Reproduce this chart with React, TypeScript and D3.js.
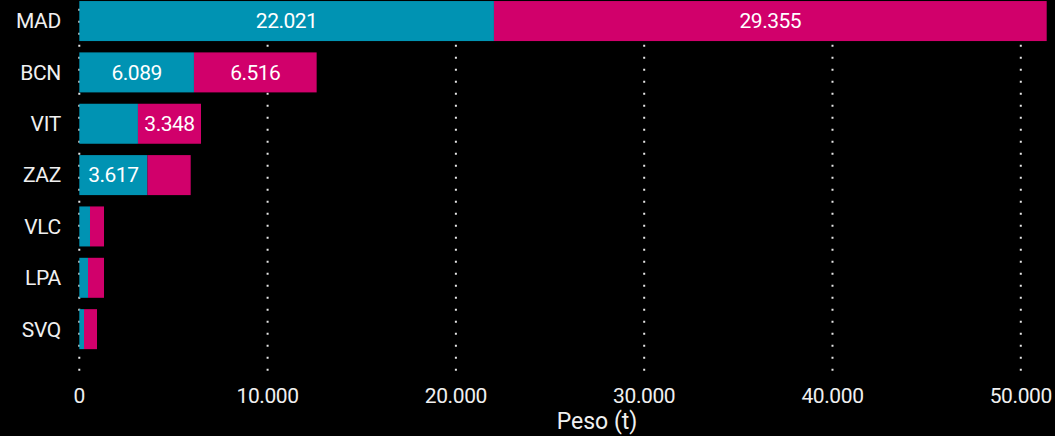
import React from "react";
import * as d3 from "d3";

const categories = ["MAD", "BCN", "VIT", "ZAZ", "VLC", "LPA", "SVQ"];
const seriesA = [22021, 6089, 3115, 3617, 568, 462, 250];
const seriesB = [29355, 6516, 3348, 2299, 744, 850, 690];
const xTicks = [0, 10000, 20000, 30000, 40000, 50000];
const xAxisTitle = "Peso (t)";

const W = 1055;
const H = 436;
const COLOR_A = "#0093b3";
const COLOR_B = "#d1006b";
const FONT = "Roboto, 'DejaVu Sans', sans-serif";

const locale = d3.formatLocale({
  decimal: ",",
  thousands: ".",
  grouping: [3],
  currency: ["", " €"],
});
const fmt = locale.format(",d");

export default function App() {
  const totals = seriesA.map((a, i) => a + seriesB[i]);
  const x = d3.scaleLinear().domain([0, d3.max(totals) as number]).range([79.3, 1046.7]);
  const y = d3
    .scaleBand<string>()
    .domain(categories)
    .range([-4.6, 354.8])
    .paddingInner(0.221)
    .paddingOuter(0.11);

  const bw = y.bandwidth();
  const segs: { key: string; x0: number; x1: number; y: number; color: string; v: number }[] = [];
  categories.forEach((c, i) => {
    segs.push({ key: c + "a", x0: x(0), x1: x(seriesA[i]), y: y(c) as number, color: COLOR_A, v: seriesA[i] });
    segs.push({
      key: c + "b",
      x0: x(seriesA[i]),
      x1: x(seriesA[i] + seriesB[i]),
      y: y(c) as number,
      color: COLOR_B,
      v: seriesB[i],
    });
  });

  return (
    <svg
      width={W}
      height={H}
      style={{ position: "absolute", left: 0, top: 0, background: "#000", display: "block" }}
    >
      <rect x={0} y={0} width={W} height={H} fill="#000" />
      {xTicks.map((t) => (
        <line
          key={"g" + t}
          x1={x(t)}
          x2={x(t)}
          y1={0}
          y2={372}
          stroke="#e6e6e6"
          strokeWidth={2}
          strokeDasharray="2,10"
          strokeDashoffset={3.3}
        />
      ))}
      {segs.map((s) => (
        <rect key={s.key} x={s.x0} y={s.y} width={s.x1 - s.x0} height={bw} fill={s.color} />
      ))}
      {segs
        .filter((s) => s.x1 - s.x0 > 60)
        .map((s) => (
          <text
            key={"t" + s.key}
            x={(s.x0 + s.x1) / 2}
            y={s.y + bw / 2}
            dy="0.35em"
            textAnchor="middle"
            fill="#fff"
            fontFamily={FONT}
            fontSize={21}
            letterSpacing={-0.5}
          >
            {fmt(s.v)}
          </text>
        ))}
      {categories.map((c) => (
        <text
          key={"c" + c}
          x={61}
          y={(y(c) as number) + bw / 2}
          dy="0.35em"
          textAnchor="end"
          fill="#f0f0f0"
          fontFamily={FONT}
          fontSize={21}
          letterSpacing={-0.3}
        >
          {c}
        </text>
      ))}
      {xTicks.map((t) => (
        <text
          key={"l" + t}
          x={x(t)}
          y={403}
          textAnchor="middle"
          fill="#f0f0f0"
          fontFamily={FONT}
          fontSize={21}
          letterSpacing={-0.4}
        >
          {fmt(t)}
        </text>
      ))}
      <text x={597} y={429} textAnchor="middle" fill="#f0f0f0" fontFamily={FONT} fontSize={23}>
        {xAxisTitle}
      </text>
    </svg>
  );
}
